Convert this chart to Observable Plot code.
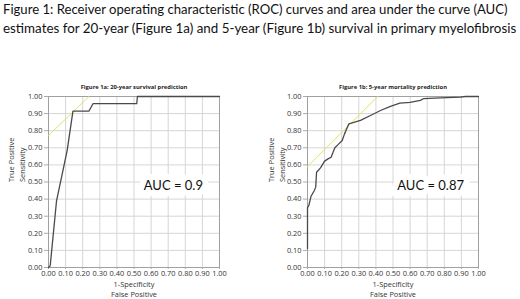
<!DOCTYPE html>
<html>
<head>
<meta charset="utf-8">
<script src="https://cdn.jsdelivr.net/npm/d3@7"></script>
<script src="https://cdn.jsdelivr.net/npm/@observablehq/plot@0.6"></script>
<style>
  html, body { margin: 0; padding: 0; background: #fff; }
  #wrap { position: relative; width: 520px; height: 299px; overflow: hidden; }
  .title { position: absolute; left: 3px; white-space: nowrap; font-family: Lato, "Open Sans", sans-serif; color: #111; }
  .chart { position: absolute; top: 70px; }
</style>
</head>
<body>
<div id="wrap">
  <div class="title" id="t1" style="top:1px">Figure 1: Receiver operating characteristic (ROC) curves and area under the curve (AUC)</div>
  <div class="title" id="t2" style="top:20px">estimates for 20-year (Figure 1a) and 5-year (Figure 1b) survival in primary myelofibrosis</div>
  <div class="chart" id="c1" style="left:0px"></div>
  <div class="chart" id="c2" style="left:260px"></div>
</div>
<script>
// ---- Data ----
const ticks = [0, 0.1, 0.2, 0.3, 0.4, 0.5, 0.6, 0.7, 0.8, 0.9, 1.0];

// Figure 1a: 20-year survival
const fprA = [0, 0.01, 0.047, 0.109, 0.143, 0.237, 0.26, 0.516, 0.52, 1.0];
const tprA = [0, 0.01, 0.39, 0.684, 0.915, 0.915, 0.958, 0.958, 1.0, 1.0];
const tanFprA = [0, 0.237];
const tanTprA = [0.772, 1.0];

// Figure 1b: 5-year mortality
const fprB = [0, 0, 0.008, 0.02, 0.04, 0.048, 0.053, 0.076, 0.1, 0.12, 0.138, 0.16, 0.18, 0.203, 0.216, 0.242, 0.271, 0.31, 0.368, 0.427, 0.485, 0.54, 0.6, 0.66, 0.68, 0.778, 0.895, 0.924, 1.0];
const tprB = [0.11, 0.35, 0.363, 0.415, 0.45, 0.47, 0.557, 0.583, 0.622, 0.635, 0.645, 0.70, 0.72, 0.743, 0.78, 0.84, 0.848, 0.86, 0.889, 0.918, 0.942, 0.961, 0.966, 0.977, 0.988, 0.992, 0.996, 1.0, 1.0];
const tanFprB = [0, 0.411];
const tanTprB = [0.59, 1.0];

const titles = ["Figure 1a: 20-year survival prediction", "Figure 1b: 5-year mortality prediction"];
const aucLabels = ["AUC = 0.9", "AUC = 0.87"];
const aucPos = [[0.557, 0.477], [0.525, 0.477]];
const xLabel = "1-Specificity\nFalse Positive";
const yLabel = "True Positive\nSensitivity";

function toRows(xs, ys) { return xs.map((x, i) => ({x, y: ys[i]})); }

const aucFont = "Lato, 'Open Sans', sans-serif";
const aucSize = 13;

function makeChart(curve, tangent, title, auc, pos, mLeft, mRight) {
  const W = 260, H = 229;
  const font = "'Open Sans', sans-serif";
  const fmt = d3.format(".2f");
  return Plot.plot({
    width: W, height: H,
    marginLeft: mLeft, marginRight: mRight, marginTop: 26, marginBottom: 32,
    style: {fontFamily: font, fontSize: "7.4px", color: "#333", background: "#fff"},
    x: {domain: [0, 1], label: null},
    y: {domain: [0, 1], label: null},
    marks: [
      Plot.gridX(ticks, {stroke: "#d6d6d6", strokeOpacity: 1}),
      Plot.gridY(ticks, {stroke: "#d6d6d6", strokeOpacity: 1}),
      Plot.frame({stroke: "#a0a0a0"}),
      Plot.axisX(ticks, {tickFormat: fmt, tickSize: 2, tickPadding: 1.5, stroke: "#aaa", fill: "#333", label: null}),
      Plot.axisY(ticks, {tickFormat: fmt, tickSize: 4, tickPadding: 2, stroke: "#aaa", fill: "#333", label: null}),
      Plot.line(tangent, {x: "x", y: "y", stroke: "#e6df6a", strokeWidth: 1}),
      Plot.line(curve, {x: "x", y: "y", stroke: "#4a4a4a", strokeWidth: 1.3}),
      Plot.text([auc], {x: () => pos[0], y: () => pos[1], text: d => d, textAnchor: "start", lineAnchor: "middle",
        fontSize: aucSize, fill: "#111", fontFamily: aucFont,
        stroke: "#fff", strokeWidth: 12, strokeLinejoin: "miter"}),
      Plot.text([title], {frameAnchor: "top", dy: -12, text: d => d, fontSize: 5.8, fontWeight: "bold", fill: "#222"}),
      Plot.text([xLabel], {frameAnchor: "bottom", lineAnchor: "top", dy: 13, text: d => d, fontSize: 7.4, lineHeight: 1.3, fill: "#333"}),
      Plot.text([yLabel], {frameAnchor: "left", dx: -mLeft + 15.5, rotate: -90, text: d => d, fontSize: 7.4, lineHeight: 1.45, fill: "#333"})
    ]
  });
}

document.getElementById("c1").appendChild(
  makeChart(toRows(fprA, tprA), toRows(tanFprA, tanTprA), titles[0], aucLabels[0], aucPos[0], 48, 41));
document.getElementById("c2").appendChild(
  makeChart(toRows(fprB, tprB), toRows(tanFprB, tanTprB), titles[1], aucLabels[1], aucPos[1], 47, 42));

function fit(id, target) {
  const el = document.getElementById(id);
  let fs = 14;
  el.style.fontSize = fs + "px";
  const w = el.getBoundingClientRect().width;
  el.style.fontSize = (fs * target / w) + "px";
}
fit("t1", 505);
fit("t2", 514);
</script>
</body>
</html>
